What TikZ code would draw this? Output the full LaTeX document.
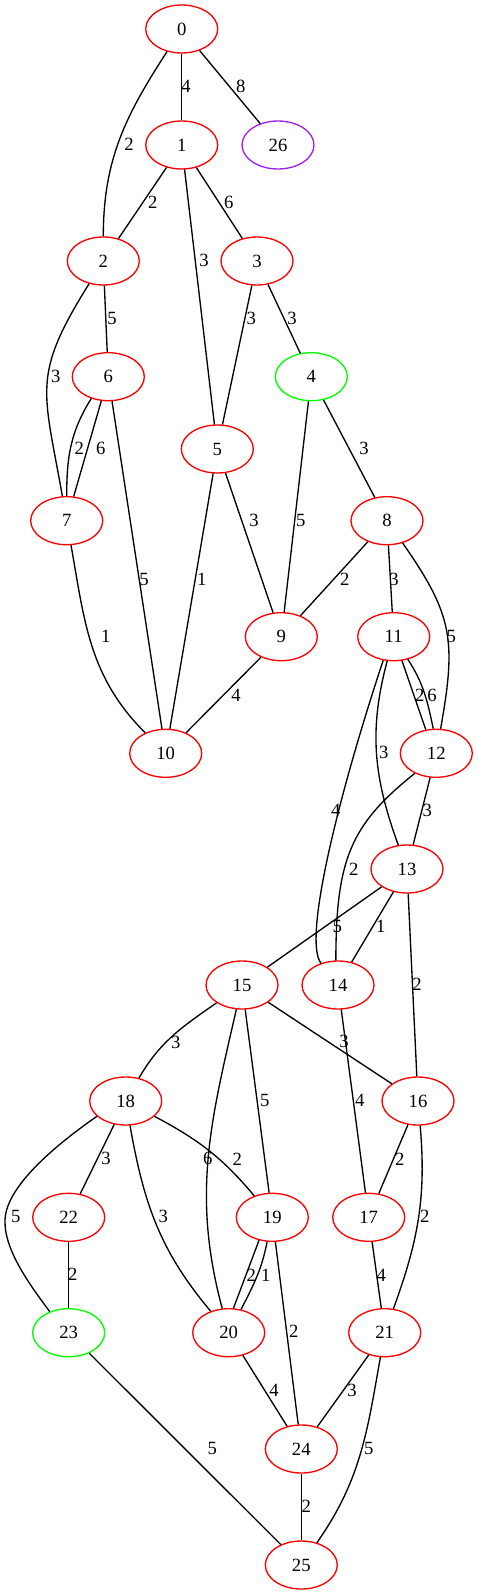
\documentclass[tikz,border=0pt]{standalone}
\usepackage{fontspec}
\setmainfont{Liberation Serif}
\usetikzlibrary{shapes.geometric}
\definecolor{gvred}{RGB}{255,0,0}
\definecolor{gvgreen}{RGB}{0,255,0}
\definecolor{gvpurple}{RGB}{160,32,240}
\tikzset{
  vtx/.style={ellipse, draw=gvred, line width=1pt, minimum width=54pt, minimum height=36pt, inner sep=0pt, font=\fontsize{14pt}{16pt}\selectfont},
  gvtx/.style={vtx, draw=gvgreen},
  pvtx/.style={vtx, draw=gvpurple},
  lbl/.style={inner sep=0pt, font=\fontsize{14pt}{16pt}\selectfont},
  edge/.style={line width=1pt, black}
}
\begin{document}
\begin{tikzpicture}[x=0.75pt,y=-0.75pt]
\useasboundingbox (0,0) rectangle (478,1595);
% nodes
\node[vtx] (n0) at (181.7,29) {0};
\node[vtx] (n1) at (181.7,145) {1};
\node[pvtx] (n26) at (278,145) {26};
\node[vtx] (n2) at (103.3,261) {2};
\node[vtx] (n3) at (257,261) {3};
\node[vtx] (n6) at (108.3,376.7) {6};
\node[gvtx] (n4) at (311.3,376.7) {4};
\node[vtx] (n5) at (217.3,449) {5};
\node[vtx] (n7) at (66.7,520.7) {7};
\node[vtx] (n8) at (387,520.7) {8};
\node[vtx] (n9) at (281.3,636.7) {9};
\node[vtx] (n11) at (393.7,636.7) {11};
\node[vtx] (n10) at (165.7,753.3) {10};
\node[vtx] (n12) at (436.3,753.3) {12};
\node[vtx] (n13) at (407,869) {13};
\node[vtx] (n15) at (242,985) {15};
\node[vtx] (n14) at (338,985) {14};
\node[vtx] (n18) at (125.7,1101) {18};
\node[vtx] (n16) at (418,1101) {16};
\node[vtx] (n22) at (68.7,1217.3) {22};
\node[vtx] (n19) at (272.3,1217.3) {19};
\node[vtx] (n17) at (368.7,1217.3) {17};
\node[gvtx] (n23) at (68.7,1332.7) {23};
\node[vtx] (n20) at (228.7,1332.7) {20};
\node[vtx] (n21) at (384.7,1332.7) {21};
\node[vtx] (n24) at (301.3,1449) {24};
\node[vtx] (n25) at (301.3,1565) {25};
% straight edges
\draw[edge] (n0) -- (n1);
\draw[edge] (n0) -- (n26);
\draw[edge] (n1) -- (n2);
\draw[edge] (n1) -- (n3);
\draw[edge] (n1) -- (n5);
\draw[edge] (n2) -- (n6);
\draw[edge] (n3) -- (n5);
\draw[edge] (n3) -- (n4);
\draw[edge] (n6) -- (n7);
\draw[edge] (n6) -- (n10);
\draw[edge] (n5) -- (n10);
\draw[edge] (n5) -- (n9);
\draw[edge] (n4) -- (n9);
\draw[edge] (n4) -- (n8);
\draw[edge] (n8) -- (n9);
\draw[edge] (n8) -- (n11);
\draw[edge] (n9) -- (n10);
\draw[edge] (n11.-71) -- (n12.114);
\draw[edge] (n12) -- (n13);
\draw[edge] (n13) -- (n14);
\draw[edge] (n13) -- (n15);
\draw[edge] (n13) -- (n16);
\draw[edge] (n15) -- (n16);
\draw[edge] (n15) -- (n19);
\draw[edge] (n14) -- (n17);
\draw[edge] (n16) -- (n17);
\draw[edge] (n17) -- (n21);
\draw[edge] (n18) -- (n22);
\draw[edge] (n19) -- (n24);
\draw[edge] (n19.240) -- (n20.79);
\draw[edge] (n20) -- (n24);
\draw[edge] (n21) -- (n24);
\draw[edge] (n22) -- (n23);
\draw[edge] (n23) -- (n25);
\draw[edge] (n24) -- (n25);
% curved edges
\draw[edge] (n0) to[out=237,in=90] (n2);
\draw[edge] (n2) to[out=238,in=100,looseness=1.3] (n7);
\draw[edge] (n6.232) to[out=238,in=90] (n7.north);
\draw[edge] (n7) to[out=280,in=135] (n10);
\draw[edge] (n8) to[out=-55,in=80,looseness=1.2] (n12);
\draw[edge] (n11.-58) to[out=-57,in=102] (n12.97);
\draw[edge] (n11) to[out=255,in=110] (n13);
\draw[edge] (n11.246) .. controls (337,800) and (303,940) .. (n14.128);
\draw[edge] (n12.223) .. controls (350,825) and (336,860) .. (n14.95);
\draw[edge] (n15) to[out=215,in=60] (n18);
\draw[edge] (n15) to[out=257,in=105] (n20);
\draw[edge] (n16) to[out=275,in=70] (n21);
\draw[edge] (n18.208) .. controls (60,1142) and (6,1185) .. (5,1220) .. controls (4,1250) and (30,1285) .. (n23.132);
\draw[edge] (n18) to[out=-28,in=130] (n19);
\draw[edge] (n18) to[out=280,in=130] (n20);
\draw[edge] (n19.258) to[out=259,in=63] (n20.62);
\draw[edge] (n21) to[out=260,in=55] (n25);
% labels
\node[lbl] (l0a) at (186,86.7) {4};
\node[lbl] (l0b) at (129,144) {2};
\node[lbl] (l0c) at (240.7,86) {8};
\node[lbl] (l1a) at (152.7,202.3) {2};
\node[lbl] (l1b) at (228.7,202.3) {6};
\node[lbl] (l1c) at (204,260) {3};
\node[lbl] (l2a) at (112,318.3) {5};
\node[lbl] (l2b) at (55.7,376.7) {3};
\node[lbl] (l3a) at (251.3,318.3) {3};
\node[lbl] (l3b) at (292,318.3) {3};
\node[lbl] (l6a) at (79.3,448.3) {2};
\node[lbl] (l6b) at (100.7,448.3) {6};
\node[lbl] (l6c) at (144,579) {5};
\node[lbl] (l7a) at (105.7,636.7) {1};
\node[lbl] (l5a) at (201.7,579) {1};
\node[lbl] (l5b) at (254,520) {3};
\node[lbl] (l4a) at (300.7,520) {5};
\node[lbl] (l4b) at (364,448.3) {3};
\node[lbl] (l8a) at (344.7,579) {2};
\node[lbl] (l8b) at (394,579) {3};
\node[lbl] (l8c) at (451.3,636.7) {5};
\node[lbl] (l9a) at (236,695) {4};
\node[lbl] (l11a) at (419.7,695) {2};
\node[lbl] (l11b) at (432,695) {6};
\node[lbl] (l11c) at (383.7,752.3) {3};
\node[lbl] (l11d) at (335.7,810) {4};
\node[lbl] (l12a) at (427.3,810) {3};
\node[lbl] (l12b) at (353.7,869) {2};
\node[lbl] (l13a) at (380.7,926.7) {1};
\node[lbl] (l13b) at (337.3,926.7) {5};
\node[lbl] (l13c) at (417,984) {2};
\node[lbl] (l15a) at (344,1041.7) {3};
\node[lbl] (l15b) at (175.7,1042.3) {3};
\node[lbl] (l15c) at (264.7,1100) {5};
\node[lbl] (l15d) at (207.7,1158.3) {6};
\node[lbl] (l14a) at (359.7,1100) {4};
\node[lbl] (l16a) at (399.7,1159) {2};
\node[lbl] (l16b) at (424.7,1216.7) {2};
\node[lbl] (l18a) at (106,1158.3) {3};
\node[lbl] (l18b) at (15.7,1216.7) {5};
\node[lbl] (l18c) at (237.3,1159) {2};
\node[lbl] (l18d) at (163.3,1216.7) {3};
\node[lbl] (l19a) at (251.3,1275) {2};
\node[lbl] (l19b) at (265.7,1275) {1};
\node[lbl] (l19c) at (293.7,1331.7) {2};
\node[lbl] (l17a) at (381.3,1275) {4};
\node[lbl] (l20a) at (274,1390) {4};
\node[lbl] (l21a) at (352,1390) {3};
\node[lbl] (l21b) at (368.7,1448.3) {5};
\node[lbl] (l22a) at (72.7,1274) {2};
\node[lbl] (l23a) at (212.3,1448.3) {5};
\node[lbl] (l24a) at (306.3,1506.7) {2};
\end{tikzpicture}
\end{document}
